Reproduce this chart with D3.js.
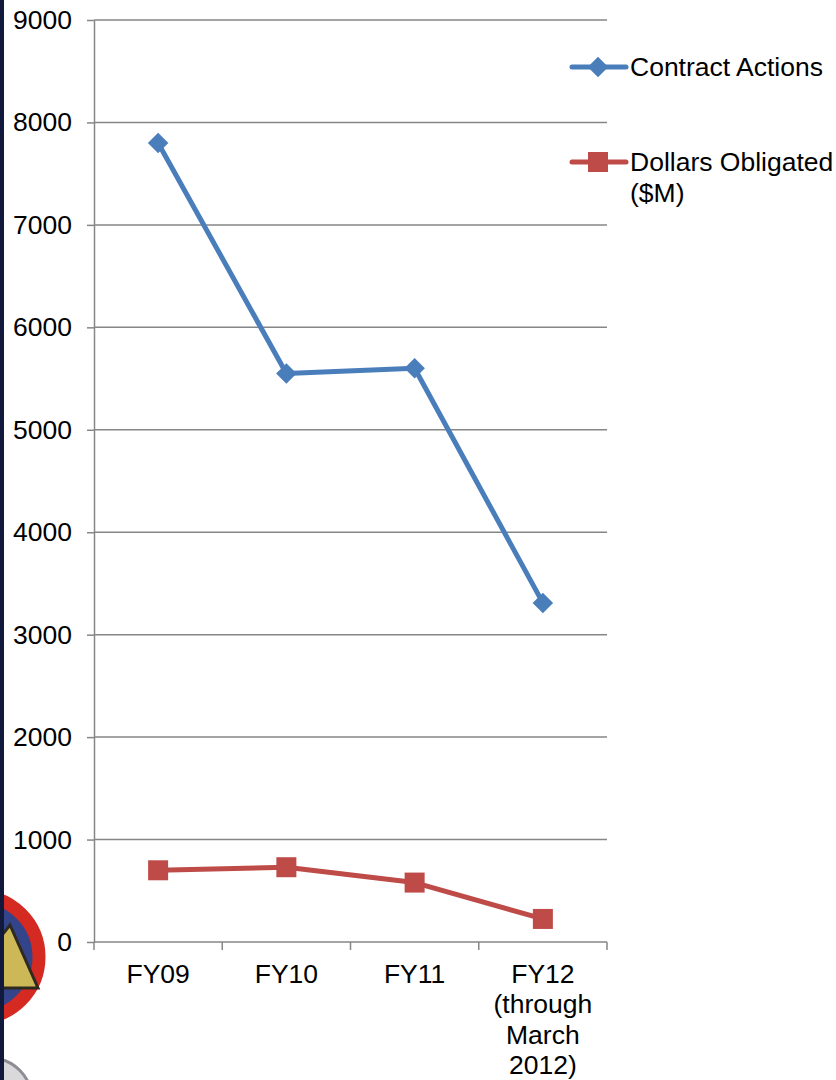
<!DOCTYPE html>
<html>
<head>
<meta charset="utf-8">
<script src="https://cdn.jsdelivr.net/npm/d3@7"></script>
<style>
  body { margin: 0; background: #fff; }
  svg { display: block; font-family: "Liberation Sans", Arial, sans-serif; }
</style>
</head>
<body>
<div id="chart"></div>
<script>
const categories = ["FY09", "FY10", "FY11", "FY12"];
const categoryLabels = [["FY09"], ["FY10"], ["FY11"], ["FY12", "(through", "March", "2012)"]];
const contractActions = [7800, 5550, 5600, 3310];
const dollarsObligated = [700, 730, 580, 225];
const yTicks = [0, 1000, 2000, 3000, 4000, 5000, 6000, 7000, 8000, 9000];
const seriesNames = ["Contract Actions", "Dollars Obligated\n($M)"];

const width = 836, height = 1080;
const margin = {top: 20, left: 94, right: 229, bottom: 138};
const gray = "#868686";
const blue = "#4a7ebb", red = "#be4b48";
const fontSize = "26.5px";

const svg = d3.select("#chart").append("svg")
    .attr("width", width)
    .attr("height", height);

// decoration from the slide behind the chart
const deco = svg.append("g").attr("class", "deco");
deco.append("circle").attr("cx", -10).attr("cy", 1100).attr("r", 42)
    .attr("fill", "#d9d9dc").attr("stroke", "#8d8d93").attr("stroke-width", 3);
deco.append("circle").attr("cx", -22).attr("cy", 957).attr("r", 61)
    .attr("fill", "#33448a").attr("stroke", "#d42a22").attr("stroke-width", 13);
deco.append("path")
    .attr("d", "M-40,988 L10,925 L38,988 Z")
    .attr("fill", "#cdb857").attr("stroke", "#2e2a20").attr("stroke-width", 3);
deco.append("rect").attr("x", 0).attr("y", 0).attr("width", 4).attr("height", height)
    .attr("fill", "#111a3c");

const x = d3.scaleBand()
    .domain(categories)
    .range([margin.left, width - margin.right]);

const y = d3.scaleLinear()
    .domain([0, 9000])
    .range([height - margin.bottom, margin.top]);

// gridlines
svg.selectAll(".grid")
    .data(yTicks.filter(d => d > 0))
    .enter().append("line")
    .attr("class", "grid")
    .attr("x1", margin.left)
    .attr("x2", width - margin.right)
    .attr("y1", d => y(d))
    .attr("y2", d => y(d))
    .attr("stroke", gray)
    .attr("stroke-width", 1.5);

// y axis
const yAxis = svg.append("g")
    .attr("transform", `translate(${margin.left},0)`)
    .call(d3.axisLeft(y).tickValues(yTicks).tickFormat(d3.format("d"))
        .tickSize(7).tickPadding(15).tickSizeOuter(0));
yAxis.select(".domain").attr("stroke", gray).attr("stroke-width", 1.5);
yAxis.selectAll(".tick line").attr("stroke", gray).attr("stroke-width", 1.5);
yAxis.selectAll(".tick text")
    .attr("font-size", fontSize)
    .attr("font-family", "Liberation Sans, Arial, sans-serif")
    .attr("fill", "#000");

// x axis baseline and boundary ticks
const x0 = y(0);
svg.append("line")
    .attr("x1", margin.left).attr("x2", width - margin.right)
    .attr("y1", x0).attr("y2", x0)
    .attr("stroke", gray).attr("stroke-width", 1.5);
const bounds = categories.map(c => x(c)).concat([x(categories[categories.length - 1]) + x.bandwidth()]);
svg.selectAll(".xtick")
    .data(bounds)
    .enter().append("line")
    .attr("class", "xtick")
    .attr("x1", d => d).attr("x2", d => d)
    .attr("y1", x0).attr("y2", x0 + 8)
    .attr("stroke", gray).attr("stroke-width", 1.5);

svg.selectAll(".xlabel")
    .data(categories)
    .enter().append("text")
    .attr("class", "xlabel")
    .attr("x", d => x(d) + x.bandwidth() / 2)
    .attr("y", x0 + 41)
    .attr("text-anchor", "middle")
    .attr("font-size", fontSize)
    .selectAll("tspan")
    .data((d, i) => categoryLabels[i])
    .enter().append("tspan")
    .attr("x", function() { return d3.select(this.parentNode).attr("x"); })
    .attr("dy", (d, i) => i === 0 ? 0 : 30.4)
    .text(d => d);

const cx = (d, i) => x(categories[i]) + x.bandwidth() / 2;

// Contract Actions
svg.append("path")
    .datum(contractActions)
    .attr("fill", "none")
    .attr("stroke", blue)
    .attr("stroke-width", 5)
    .attr("stroke-linejoin", "round")
    .attr("d", d3.line().x(cx).y(d => y(d)));
svg.selectAll(".diamond")
    .data(contractActions)
    .enter().append("path")
    .attr("class", "diamond")
    .attr("transform", (d, i) => `translate(${cx(d, i)},${y(d)}) rotate(45)`)
    .attr("d", d3.symbol().type(d3.symbolSquare).size(210))
    .attr("fill", blue);

// Dollars Obligated
svg.append("path")
    .datum(dollarsObligated)
    .attr("fill", "none")
    .attr("stroke", red)
    .attr("stroke-width", 5)
    .attr("stroke-linejoin", "round")
    .attr("d", d3.line().x(cx).y(d => y(d)));
svg.selectAll(".square")
    .data(dollarsObligated)
    .enter().append("rect")
    .attr("class", "square")
    .attr("x", (d, i) => cx(d, i) - 10)
    .attr("y", d => y(d) - 10)
    .attr("width", 20)
    .attr("height", 20)
    .attr("fill", red);

// legend
const legend = svg.append("g").attr("class", "legend");
const legendY = [67, 162];
const legendColors = [blue, red];
legendY.forEach((ly, i) => {
    legend.append("line")
        .attr("x1", 572).attr("x2", 626)
        .attr("y1", ly).attr("y2", ly)
        .attr("stroke", legendColors[i])
        .attr("stroke-width", 5)
        .attr("stroke-linecap", "round");
    if (i === 0) {
        legend.append("path")
            .attr("transform", `translate(598,${ly}) rotate(45)`)
            .attr("d", d3.symbol().type(d3.symbolSquare).size(210))
            .attr("fill", blue);
    } else {
        legend.append("rect")
            .attr("x", 588).attr("y", ly - 10)
            .attr("width", 20).attr("height", 20)
            .attr("fill", red);
    }
    const t = legend.append("text")
        .attr("x", 630)
        .attr("y", ly + 9)
        .attr("font-size", fontSize);
    seriesNames[i].split("\n").forEach((line, j) => {
        t.append("tspan").attr("x", 630).attr("dy", j === 0 ? 0 : 31).text(line);
    });
});
</script>
</body>
</html>
